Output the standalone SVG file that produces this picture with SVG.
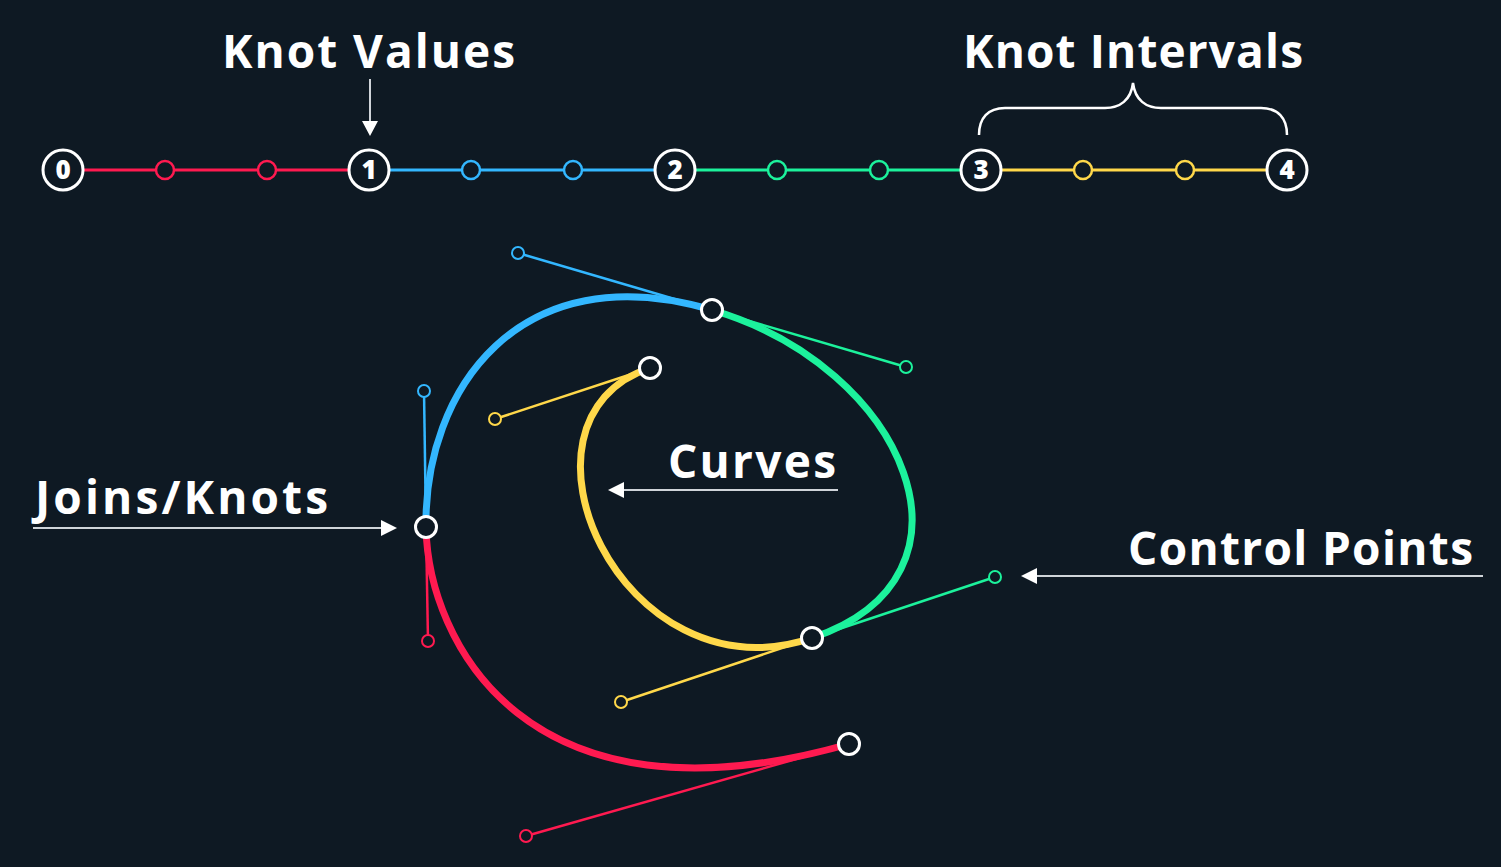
<svg xmlns="http://www.w3.org/2000/svg" width="1501" height="867" viewBox="0 0 1501 867">
  <style>
    .bg { fill: #0e1923; }
    .label { font-family: "Open Sans", "Liberation Sans", sans-serif; font-weight: 700; font-size: 46px; fill: #ffffff; }
    .num { font-family: "Open Sans", "Liberation Sans", sans-serif; font-weight: 800; font-size: 26px; fill: #ffffff; text-anchor: middle; }
    .knot-big { fill: #0e1923; stroke: #ffffff; stroke-width: 3; }
    .knot { fill: #0e1923; stroke: #ffffff; stroke-width: 3; }
    .tick { fill: #0e1923; stroke-width: 2.5; }
    .ctrl { fill: #0e1923; stroke-width: 2; }
    .seg { fill: none; stroke-width: 3; }
    .curve { fill: none; stroke-width: 7; stroke-linecap: butt; }
    .handle { fill: none; stroke-width: 2.5; }
    .pointer { fill: none; stroke: #cfd4d9; stroke-width: 2; }
    .head { fill: #ffffff; }
    .red { stroke: #ff1a50; }
    .blue { stroke: #33b7ff; }
    .green { stroke: #1cf29c; }
    .yellow { stroke: #ffd84a; }
  </style>

  <rect class="bg" x="0" y="0" width="1501" height="867"/>

  <!-- labels -->
  <g id="label-knot-values"><text class="label" x="222" y="68" textLength="293">Knot Values</text></g>
  <g id="label-knot-intervals"><text class="label" x="963" y="68" textLength="340">Knot Intervals</text></g>
  <g id="label-curves"><text class="label" x="668" y="478" textLength="168">Curves</text></g>
  <g id="label-joins"><text class="label" x="35" y="514" textLength="293">Joins/Knots</text></g>
  <g id="label-control"><text class="label" x="1128" y="565" textLength="345">Control Points</text></g>

  <!-- pointers and brace -->
  <g id="connectors">
    <line class="pointer" x1="370" y1="79" x2="370" y2="122"/>
    <polygon class="head" points="362,121 378,121 370,136"/>

    <line class="pointer" x1="838" y1="490" x2="622" y2="490"/>
    <polygon class="head" points="624,482 624,498 608,490"/>

    <line class="pointer" x1="33" y1="528" x2="382" y2="528"/>
    <polygon class="head" points="381,520 381,536 397,528"/>

    <line class="pointer" x1="1483" y1="576" x2="1036" y2="576"/>
    <polygon class="head" points="1037,568 1037,584 1021,576"/>

    <path d="M979,135 C979,118 988,108 1005,108 L1105,108 C1120,108 1131,100 1133,83 C1135,100 1146,108 1161,108 L1261,108 C1278,108 1287,118 1287,135" fill="none" stroke="#ffffff" stroke-width="2.5"/>
  </g>

  <!-- knot vector line -->
  <g id="knot-line">
    <line class="seg red" x1="63" y1="170" x2="369" y2="170"/>
    <line class="seg blue" x1="369" y1="170" x2="675" y2="170"/>
    <line class="seg green" x1="675" y1="170" x2="981" y2="170"/>
    <line class="seg yellow" x1="981" y1="170" x2="1287" y2="170"/>
    <circle class="tick red" cx="165" cy="170" r="9"/>
    <circle class="tick red" cx="267" cy="170" r="9"/>
    <circle class="tick blue" cx="471" cy="170" r="9"/>
    <circle class="tick blue" cx="573" cy="170" r="9"/>
    <circle class="tick green" cx="777" cy="170" r="9"/>
    <circle class="tick green" cx="879" cy="170" r="9"/>
    <circle class="tick yellow" cx="1083" cy="170" r="9"/>
    <circle class="tick yellow" cx="1185" cy="170" r="9"/>
  </g>
  <g id="knot-0"><circle class="knot-big" cx="63" cy="170" r="20"/><text class="num" x="63" y="179">0</text></g>
  <g id="knot-1"><circle class="knot-big" cx="369" cy="170" r="20"/><text class="num" x="369" y="179">1</text></g>
  <g id="knot-2"><circle class="knot-big" cx="675" cy="170" r="20"/><text class="num" x="675" y="179">2</text></g>
  <g id="knot-3"><circle class="knot-big" cx="981" cy="170" r="20"/><text class="num" x="981" y="179">3</text></g>
  <g id="knot-4"><circle class="knot-big" cx="1287" cy="170" r="20"/><text class="num" x="1287" y="179">4</text></g>

  <!-- control handles -->
  <g id="handles">
    <line class="handle blue" x1="426" y1="527" x2="424" y2="391"/>
    <line class="handle blue" x1="712" y1="310" x2="518" y2="253"/>
    <line class="handle green" x1="712" y1="310" x2="906" y2="367"/>
    <line class="handle green" x1="812" y1="638" x2="995" y2="577"/>
    <line class="handle yellow" x1="812" y1="638" x2="621" y2="702"/>
    <line class="handle yellow" x1="650" y1="368" x2="495" y2="419"/>
    <line class="handle red" x1="426" y1="527" x2="428" y2="641"/>
    <line class="handle red" x1="849" y1="744" x2="526" y2="836"/>
  </g>

  <!-- spline segments -->
  <g id="curves">
    <path class="curve red" d="M426,527 C428,641 526,836 849,744"/>
    <path class="curve blue" d="M426,527 C424,391 518,253 712,310"/>
    <path class="curve green" d="M712,310 C906,367 995,577 812,638"/>
    <path class="curve yellow" d="M812,638 C621,702 495,419 650,368"/>
  </g>

  <!-- control points -->
  <g id="control-points">
    <circle class="ctrl blue" cx="424" cy="391" r="6"/>
    <circle class="ctrl blue" cx="518" cy="253" r="6"/>
    <circle class="ctrl green" cx="906" cy="367" r="6"/>
    <circle class="ctrl green" cx="995" cy="577" r="6"/>
    <circle class="ctrl yellow" cx="621" cy="702" r="6"/>
    <circle class="ctrl yellow" cx="495" cy="419" r="6"/>
    <circle class="ctrl red" cx="428" cy="641" r="6"/>
    <circle class="ctrl red" cx="526" cy="836" r="6"/>
  </g>

  <!-- joins -->
  <g id="join-a"><circle class="knot" cx="426" cy="527" r="10.5"/></g>
  <g id="join-b"><circle class="knot" cx="712" cy="310" r="10.5"/></g>
  <g id="join-c"><circle class="knot" cx="650" cy="368" r="10.5"/></g>
  <g id="join-d"><circle class="knot" cx="812" cy="638" r="10.5"/></g>
  <g id="join-e"><circle class="knot" cx="849" cy="744" r="10.5"/></g>
</svg>
